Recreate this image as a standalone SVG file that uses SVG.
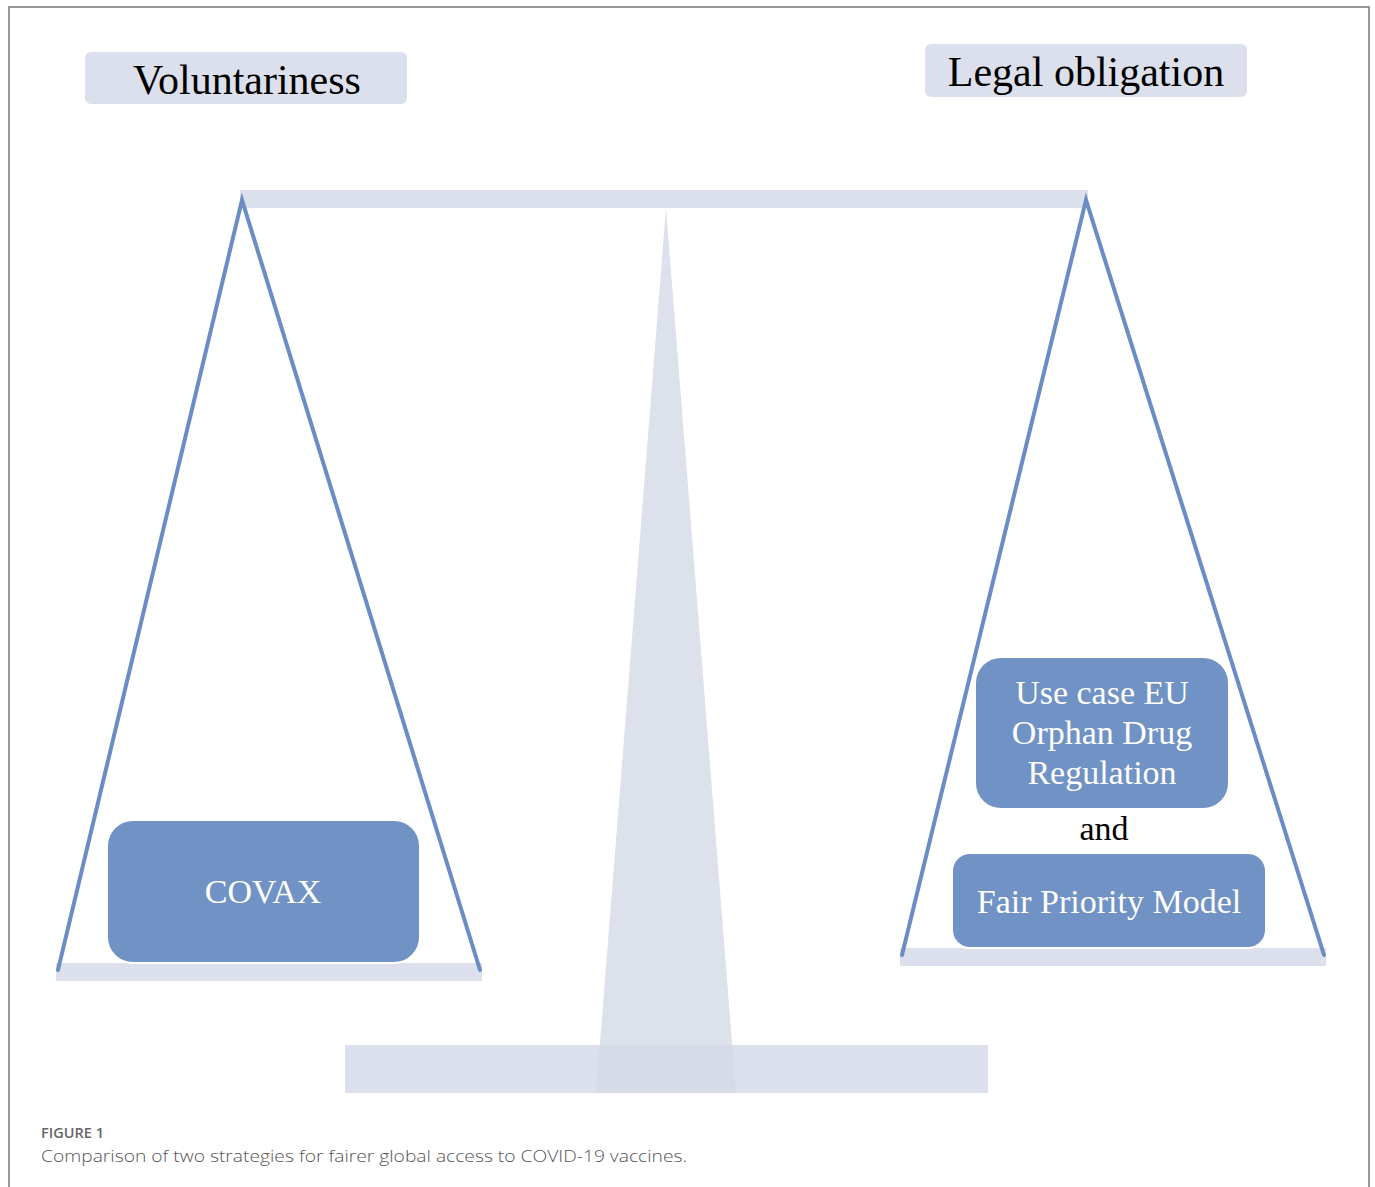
<svg xmlns="http://www.w3.org/2000/svg" width="1375" height="1187" viewBox="0 0 1375 1187">
<style>
.light{fill:#dce0ec;}
.hdr{font-family:"Liberation Serif","Times New Roman",serif;font-size:42px;fill:#000;text-anchor:middle;}
.box{fill:#7092c5;stroke:#ffffff;stroke-width:2;}
.btxt{font-family:"Liberation Serif","Times New Roman",serif;font-size:34px;fill:#ffffff;text-anchor:middle;}
.rope{stroke:#6b8dc4;stroke-width:4;fill:none;stroke-linecap:round;}
.cap1{font-family:"Open Sans",Lato,sans-serif;font-size:13.5px;font-weight:600;fill:#666;}
.cap2{font-family:"Open Sans",Lato,sans-serif;font-size:17px;font-weight:300;fill:#555;}
</style>
<rect x="0" y="0" width="1375" height="1187" fill="#ffffff"/>
<rect x="9" y="7" width="1360" height="1200" fill="none" stroke="#777" stroke-width="1.5"/>

<g id="scale">
  <rect class="light" x="240" y="190" width="848" height="18"/>
  <rect class="light" x="345" y="1045" width="643" height="48"/>
  <polygon points="666,208 596,1093 736,1093" fill="#d4d9e7" opacity="0.8"/>
  <rect class="light" x="56" y="963" width="426" height="18"/>
  <rect class="light" x="900" y="948" width="426" height="18"/>
</g>

<g id="voluntariness">
  <rect class="light" x="85" y="52" width="322" height="52" rx="6"/>
  <text class="hdr" x="247" y="94">Voluntariness</text>
</g>

<g id="legal-obligation">
  <rect class="light" x="925" y="44" width="322" height="53" rx="6"/>
  <text class="hdr" x="1086" y="86">Legal obligation</text>
</g>

<g id="connectors">
  <polyline class="rope" points="58,970 242,200 480,970"/>
  <polyline class="rope" points="902,955 1086,200 1324,955"/>
</g>

<g id="covax">
  <rect class="box" x="107" y="820" width="313" height="143" rx="26"/>
  <text class="btxt" x="263" y="903">COVAX</text>
</g>

<g id="eu-orphan">
  <rect class="box" x="975" y="657" width="254" height="152" rx="26"/>
  <text class="btxt" x="1102" y="704">Use case EU</text>
  <text class="btxt" x="1102" y="744">Orphan Drug</text>
  <text class="btxt" x="1102" y="784">Regulation</text>
</g>

<g id="and">
  <text x="1104" y="840" font-family="Liberation Serif,Times New Roman,serif" font-size="34" fill="#000" text-anchor="middle">and</text>
</g>

<g id="fair-priority">
  <rect class="box" x="952" y="853" width="314" height="95" rx="18"/>
  <text class="btxt" x="1109" y="913">Fair Priority Model</text>
</g>

<g id="caption">
  <text class="cap1" x="41" y="1138" textLength="63" lengthAdjust="spacingAndGlyphs">FIGURE 1</text>
  <text class="cap2" x="41" y="1162" textLength="646" lengthAdjust="spacingAndGlyphs">Comparison of two strategies for fairer global access to COVID-19 vaccines.</text>
</g>
</svg>
